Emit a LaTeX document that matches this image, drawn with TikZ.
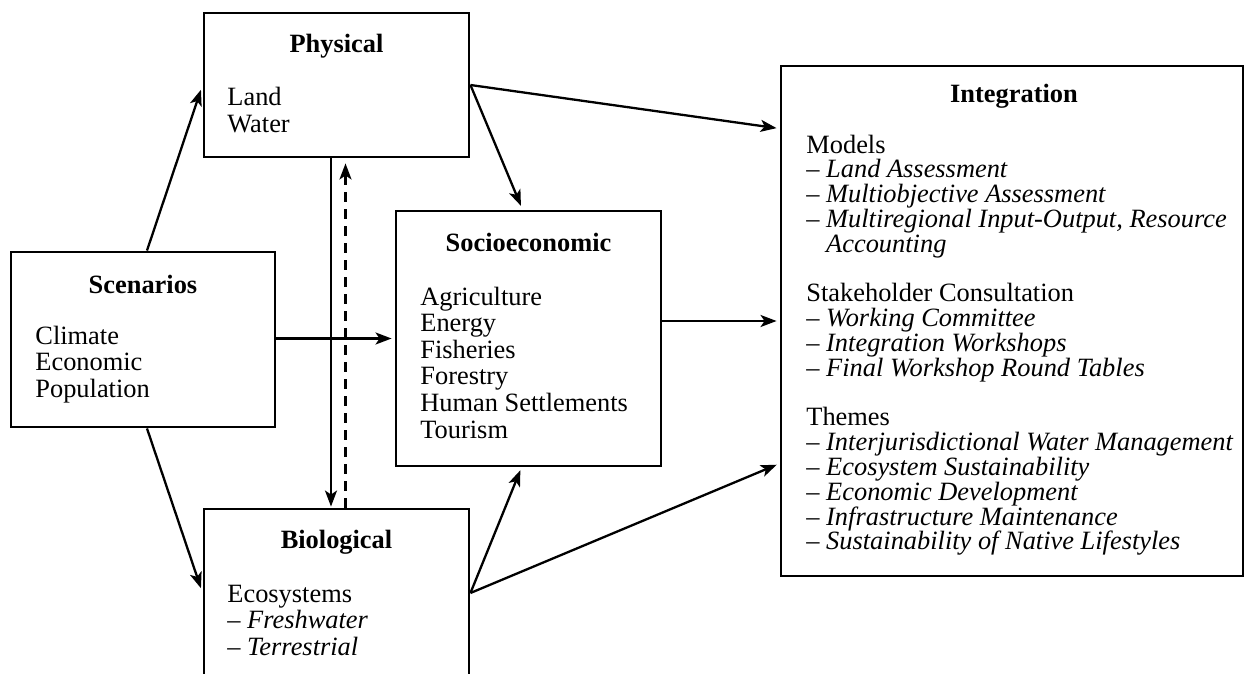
\documentclass[tikz,border=0pt]{standalone}
\usepackage{fontspec}
\setmainfont{Liberation Serif}
\usetikzlibrary{arrows.meta,calc}
\begin{document}
\begin{tikzpicture}[x=0.5pt,y=-0.5pt,
  box/.style={draw, line width=1.45pt, rectangle, inner sep=0pt},
  ttl/.style={anchor=base, inner sep=0pt, font=\fontsize{13.2}{13.3}\selectfont\bfseries},
  bodytxt/.style={anchor=base west, inner sep=0pt, align=left, font=\fontsize{13.2}{13.3}\selectfont},
  bodyint/.style={anchor=base west, inner sep=0pt, align=left, font=\fontsize{13.2}{12.4}\selectfont},
  arr/.style={line width=1.15pt, -{Stealth[length=8pt,width=6pt,inset=2pt]}},
  dasharr/.style={arr, dash pattern=on 5pt off 3.5pt}
]
\useasboundingbox (0,0) rectangle (1250,674);
% boxes
\node[box, minimum width=132.5pt, minimum height=72pt] (phys) at (336.5,85) {};
\node[box, minimum width=132pt, minimum height=87.5pt] (scen) at (143,339.5) {};
\node[box, minimum width=132.5pt, minimum height=127.5pt] (socio) at (528.5,338.5) {};
\node[box, minimum width=132.5pt, minimum height=84pt] (bio) at (336.5,593) {};
\node[box, minimum width=231pt, minimum height=255pt] (integ) at (1012,321) {};
% texts (base west anchors sit on the last line's baseline)
\node[ttl] (physT) at (336.5,53) {Physical};
\node[bodytxt] (physB) at (227,132.6) {Land\\Water};
\node[ttl] (scenT) at (143,293) {Scenarios};
\node[bodytxt] (scenB) at (35,397.2) {Climate\\Economic\\Population};
\node[ttl] (socioT) at (528.5,252) {Socioeconomic};
\node[bodytxt] (socioB) at (420,438) {Agriculture\\Energy\\Fisheries\\Forestry\\Human Settlements\\Tourism};
\node[ttl] (bioT) at (336.5,548) {Biological};
\node[bodytxt] (bioB) at (227,655.2) {Ecosystems\\– \textit{Freshwater}\\– \textit{Terrestrial}};
\node[ttl] (integT) at (1014,103) {Integration};
\node[bodyint] (integB) at (806,549.8) {Models\\
– \textit{Land Assessment}\\
– \textit{Multiobjective Assessment}\\
– \textit{Multiregional Input-Output, Resource}\\
\hphantom{– }\textit{Accounting}\\[12.4pt]
Stakeholder Consultation\\
– \textit{Working Committee}\\
– \textit{Integration Workshops}\\
– \textit{Final Workshop Round Tables}\\[12.4pt]
Themes\\
– \textit{Interjurisdictional Water Management}\\
– \textit{Ecosystem Sustainability}\\
– \textit{Economic Development}\\
– \textit{Infrastructure Maintenance}\\
– \textit{Sustainability of Native Lifestyles}};
% connector end points
\coordinate (iA) at ($(integ.north west)+(0,64)$);
\coordinate (iC) at ($(integ.north west)+(0,399)$);
\coordinate (sN) at ($(socio.north)+(-6,0)$);
\coordinate (sS) at ($(socio.south)+(-7,0)$);
\coordinate (pS1) at ($(phys.south)+(-5.5,0)$);
\coordinate (pS2) at ($(phys.south)+(9,0)$);
% connectors
\draw[arr, shorten >=2.5pt] ($(scen.north)+(4,0)$) -- (phys.west);
\draw[arr, shorten >=2.5pt] ($(scen.south)+(4,0)$) -- (bio.west);
\draw[arr, shorten >=1.5pt] (scen.east |- socio.west) -- (socio.west);
\draw[arr, shorten >=0.5pt] (pS1) -- (pS1 |- bio.north);
\draw[dasharr, shorten >=2.5pt] (pS2 |- bio.north) -- (pS2);
\draw[arr, shorten >=2pt] (phys.east) -- (sN);
\draw[arr, shorten >=1.5pt] (phys.east) -- (iA);
\draw[arr, shorten >=1.5pt] (integ.west -| socio.east) -- (integ.west);
\draw[arr, shorten >=1.5pt] (bio.east) -- (sS);
\draw[arr, shorten >=1.5pt] (bio.east) -- (iC);
\end{tikzpicture}
\end{document}
